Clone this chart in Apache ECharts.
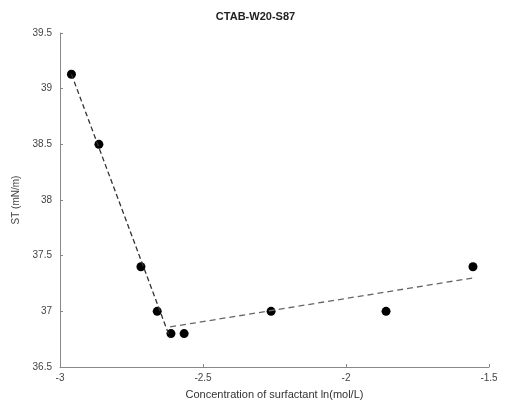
<!DOCTYPE html>
<html><head><meta charset="utf-8">
<script src="https://cdn.jsdelivr.net/npm/echarts@6/dist/echarts.min.js"></script>
<style>html,body{margin:0;padding:0;background:#fff}#c{width:511px;height:415px}</style>
</head><body><div id="c"></div>
<script>
const xValues = [-2.96, -2.864, -2.717, -2.66, -2.612, -2.566, -2.262, -1.86, -1.556];
const yValues = [39.13, 38.5, 37.4, 37.0, 36.8, 36.8, 37.0, 37.0, 37.4];
const fit1X = [-2.96, -2.615];
const fit1Y = [39.13, 36.76];
const fit2X = [-2.615, -1.556];
const fit2Y = [36.86, 37.3];
const titleText = 'CTAB-W20-S87';
const xName = 'Concentration of surfactant ln(mol/L)';
const yName = 'ST (mN/m)';

const chart = echarts.init(document.getElementById('c'));
const font = 'Liberation Sans, Arial, sans-serif';
chart.setOption({
  animation: false,
  title: {text: titleText, left: 'center', top: 6, textStyle: {fontSize: 11, fontWeight: 'bold', color: '#222', fontFamily: font}},
  grid: {left: 60, right: 22, top: 33, bottom: 48},
  xAxis: {
    type: 'value', min: -3, max: -1.5, interval: 0.5,
    name: xName, nameLocation: 'middle', nameGap: 22,
    nameTextStyle: {fontSize: 11, color: '#333', fontFamily: font},
    axisLine: {show: true, lineStyle: {color: '#888'}},
    axisTick: {show: true, inside: true, length: 3, lineStyle: {color: '#888'}},
    axisLabel: {fontSize: 10, color: '#444', fontFamily: font, margin: 6},
    splitLine: {show: false}
  },
  yAxis: {
    type: 'value', min: 36.5, max: 39.5, interval: 0.5,
    name: yName, nameLocation: 'middle', nameGap: 38,
    nameTextStyle: {fontSize: 10, color: '#444', fontFamily: font},
    axisLine: {show: true, lineStyle: {color: '#888'}},
    axisTick: {show: true, inside: true, length: 3, lineStyle: {color: '#888'}},
    axisLabel: {fontSize: 10, color: '#444', fontFamily: font, margin: 8},
    splitLine: {show: false}
  },
  series: [
    {type: 'line', data: fit1X.map((x, i) => [x, fit1Y[i]]), showSymbol: false, symbol: 'none',
     lineStyle: {color: '#333', width: 1.3, type: [5, 3]}},
    {type: 'line', data: fit2X.map((x, i) => [x, fit2Y[i]]), showSymbol: false, symbol: 'none',
     lineStyle: {color: '#666', width: 1.3, type: [6, 4]}},
    {type: 'scatter', data: xValues.map((x, i) => [x, yValues[i]]), symbolSize: 9,
     itemStyle: {color: '#000', opacity: 1}}
  ]
});
</script></body></html>
